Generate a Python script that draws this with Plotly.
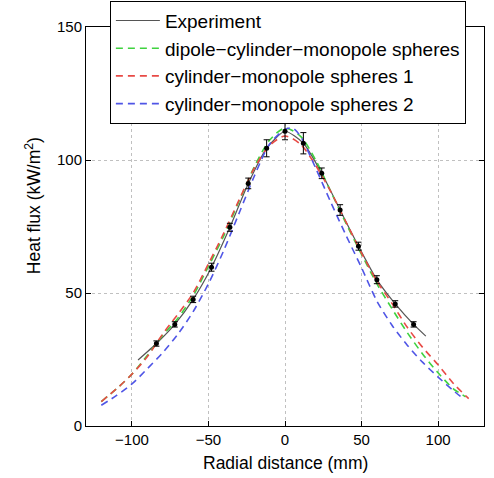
import plotly.graph_objects as go

# Experimental data (mm, kW/m^2)
exp_x = [-84, -72, -60, -48, -36, -24, -12, 0, 12, 24, 36, 48, 60, 72, 84]
exp_y = [31.0, 38.2, 47.6, 59.7, 74.7, 91.2, 104.4, 110.8, 106.3, 95.0, 81.2, 67.6, 55.0, 45.9, 38.2]
exp_err = [1.0, 1.0, 1.2, 1.5, 1.5, 2.0, 3.2, 3.2, 4.0, 2.0, 2.0, 1.5, 1.5, 1.2, 1.0]
# Experiment curve (line through the data, slightly extended)
expline_x = [-96, -84, -72, -60, -48, -36, -24, -12, 0, 12, 24, 36, 48, 60, 72, 84, 92]
expline_y = [24.8, 31.0, 38.2, 47.6, 59.7, 74.7, 91.2, 104.4, 110.8, 106.3, 95.0, 81.2, 67.6, 55.0, 45.9, 38.2, 33.8]

# Model curves
green_x = [-120, -110, -100, -90, -80, -70, -60, -50, -40, -30, -20, -10, 0, 10, 20, 30, 40, 50, 60, 70, 80, 90, 100, 110, 118]
green_y = [9.2, 14.0, 19.5, 26.5, 34.0, 40.5, 49.0, 60.0, 71.5, 84.5, 97.5, 107.5, 112.0, 109.0, 100.0, 88.0, 76.0, 64.5, 53.5, 44.0, 35.0, 27.0, 20.0, 14.0, 11.0]

red_x = [-120, -110, -100, -90, -80, -70, -60, -50, -40, -30, -20, -10, 0, 10, 20, 30, 40, 50, 60, 70, 80, 90, 100, 110, 120]
red_y = [9.2, 14.0, 19.5, 26.0, 34.5, 42.0, 50.0, 61.0, 72.5, 85.0, 97.0, 105.5, 109.0, 106.0, 98.0, 88.0, 76.5, 65.0, 54.5, 46.0, 37.0, 29.5, 23.0, 16.0, 10.3]

blue_x = [-120, -110, -100, -90, -80, -70, -60, -50, -40, -30, -20, -10, 0, 5, 10, 20, 30, 40, 50, 60, 70, 80, 90, 100, 110, 116]
blue_y = [7.8, 11.5, 15.8, 21.5, 27.5, 34.5, 43.0, 53.5, 66.0, 80.0, 94.0, 106.0, 111.5, 112.0, 109.0, 97.0, 84.0, 71.5, 59.5, 47.0, 37.8, 30.3, 23.9, 18.4, 13.3, 10.5]

x_ticks = [-100, -50, 0, 50, 100]
y_ticks = [0, 50, 100, 150]

FONT = "Liberation Sans, Arial, sans-serif"
dash = "7px,5px"

fig = go.Figure()
fig.add_trace(go.Scatter(x=expline_x, y=expline_y, mode="lines", name="Experiment",
                         line=dict(color="#555555", width=1.2, shape="spline", smoothing=0.6)))
fig.add_trace(go.Scatter(x=green_x, y=green_y, mode="lines", name="dipole\u2212cylinder\u2212monopole spheres",
                         line=dict(color="#3fd23f", width=1.6, dash=dash, shape="spline", smoothing=0.8)))
fig.add_trace(go.Scatter(x=red_x, y=red_y, mode="lines", name="cylinder\u2212monopole spheres 1",
                         line=dict(color="#e84a45", width=1.6, dash=dash, shape="spline", smoothing=0.8)))
fig.add_trace(go.Scatter(x=blue_x, y=blue_y, mode="lines", name="cylinder\u2212monopole spheres 2",
                         line=dict(color="#4f55e6", width=1.6, dash=dash, shape="spline", smoothing=0.8)))
fig.add_trace(go.Scatter(x=exp_x, y=exp_y, mode="markers", showlegend=False,
                         marker=dict(color="black", size=5),
                         error_y=dict(type="data", array=exp_err, color="black", thickness=1, width=3)))

axis_common = dict(showline=True, linecolor="black", linewidth=1, mirror="ticks",
                   ticks="inside", ticklen=5, tickcolor="black",
                   showgrid=True, gridcolor="#c0c0c0", griddash="dot", gridwidth=1,
                   zeroline=False, tickfont=dict(size=15, color="black", family=FONT))

fig.update_layout(
    width=494, height=478,
    margin=dict(l=86, r=10, t=27, b=52, autoexpand=False),
    paper_bgcolor="white", plot_bgcolor="white",
    font=dict(family=FONT, color="black"),
    xaxis=dict(range=[-130, 130], tickvals=x_ticks, **axis_common),
    yaxis=dict(range=[0, 150], tickvals=y_ticks, **axis_common),
    legend=dict(x=0.06, y=1.066, xanchor="left", yanchor="top",
                bgcolor="white", bordercolor="black", borderwidth=1,
                font=dict(size=19, family=FONT, color="black"),
                tracegroupgap=0, itemwidth=44),
    annotations=[
        dict(text="Radial distance (mm)", x=0.5, y=-0.093, xref="paper", yref="paper",
             xanchor="center", yanchor="middle", showarrow=False,
             font=dict(size=17.5, family=FONT, color="black")),
        dict(text="Heat flux (kW/m<sup>2</sup>)", x=-0.133, y=0.551, xref="paper", yref="paper",
             xanchor="center", yanchor="middle", showarrow=False, textangle=-90,
             font=dict(size=17.5, family=FONT, color="black")),
    ],
)

fig.write_html("out.html")
